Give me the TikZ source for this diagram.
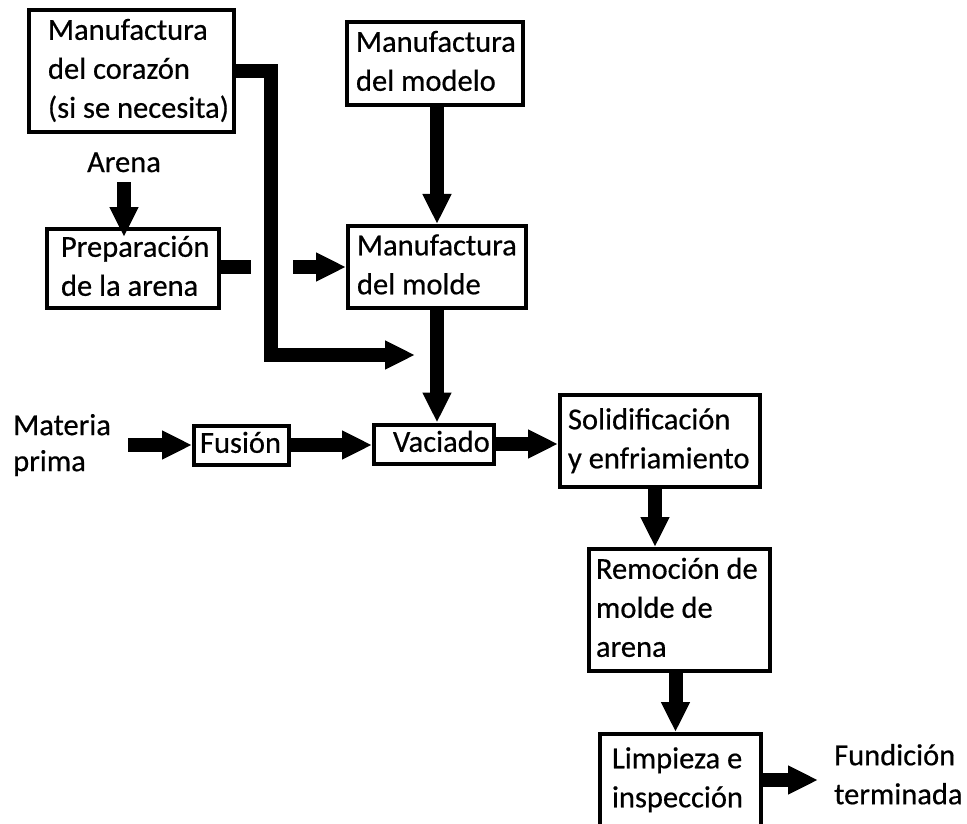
\documentclass[tikz,border=0pt]{standalone}
\usepackage{fontspec}
\setmainfont{Carlito}[FakeBold=0.5]
\usetikzlibrary{arrows.meta}
\hyphenpenalty=10000
\exhyphenpenalty=10000

\tikzset{
  every node/.style={font=\fontsize{30.5pt}{39pt}\selectfont},
  stage/.style={draw, line width=4pt, align=flush left, inner ysep=0pt, anchor=center,
    execute at begin node=\strut, execute at end node=\strut},
  caption/.style={inner sep=0pt, align=flush left},
  flow/.style={line width=14pt, -{Triangle[width=27pt,length=30pt]}},
  bar/.style={line width=14pt},
}

\begin{document}
\begin{tikzpicture}[x=1pt, y=-1pt]
  \path[fill=white] (0,0) rectangle (967,824);
  \useasboundingbox (0,0) rectangle (967,824);

  % process stages
  \node[stage, text width=167pt, inner xsep=19pt, minimum height=122pt] (core) at (131.5,71)
    {Manufactura\\\mbox{del corazón}\\\mbox{(si se necesita)}};
  \node[stage, text width=158pt, inner xsep=9pt, minimum height=83pt] (model) at (435,63.5)
    {Manufactura\\\mbox{del modelo}};
  \node[stage, text width=160pt, inner xsep=9pt, minimum height=82pt] (mold) at (437,267)
    {Manufactura\\\mbox{del molde}};
  \node[stage, text width=144pt, inner xsep=14pt, minimum height=79pt] (prep) at (133,268.5)
    {Preparación\\\mbox{de la arena}};
  \node[stage, text width=83pt, inner xsep=6pt, minimum height=32pt] (fusion) at (241.5,445)
    {Fusión};
  \node[stage, text width=82pt, inner xsep=19pt, minimum height=38pt] (pour) at (434,444)
    {Vaciado};
  \node[stage, text width=184pt, inner xsep=8pt, minimum height=92pt] (solid) at (660,441)
    {Solidificación\\\mbox{y enfriamiento}};
  \node[stage, text width=167pt, inner xsep=7pt, minimum height=122pt] (removal) at (679.5,610)
    {\mbox{Remoción de}\\\mbox{molde de}\\arena};
  \node[stage, text width=137pt, inner xsep=12pt, minimum height=92pt] (clean) at (680.5,780)
    {\mbox{Limpieza e}\\inspección};

  % inputs and output
  \node[caption, anchor=base] (sand) at (124,172) {Arena};
  \node[caption, anchor=west, font=\fontsize{30.5pt}{36pt}\selectfont,
    execute at begin node=\strut, execute at end node=\strut] (raw) at (13,448) {Materia\\prima};
  \node[caption, anchor=west,
    execute at begin node=\strut, execute at end node=\strut] (done) at (834,780) {Fundición\\terminada};

  % junction points of the core line
  \coordinate (trunk) at (271,355);
  \coordinate (coreIn) at (415,355);

  % connectors
  \draw[flow] ([yshift=-10pt]sand.south) -- ([yshift=-10pt]sand.south |- prep.north);
  \draw[flow] (mold.north |- model.south) -- (mold.north);
  \draw[flow] (core.east) -| (trunk) -- (coreIn);
  \draw[bar] (prep.east |- mold.west) -- ([xshift=-20pt]trunk |- mold.west);
  \draw[flow] ([xshift=22pt]trunk |- mold.west) -- (mold.west);
  \draw[flow] (mold.south) -- (mold.south |- pour.north);
  \draw[flow] ([xshift=17pt]raw.east |- fusion.west) -- (fusion.west);
  \draw[flow] (fusion.east) -- (fusion.east -| pour.west);
  \draw[flow] (pour.east) -- (pour.east -| solid.west);
  \draw[flow] ([xshift=-5pt]solid.south) -- ([xshift=-5pt]solid.south |- removal.north);
  \draw[flow] ([xshift=-4pt]removal.south) -- ([xshift=-4pt]removal.south |- clean.north);
  \draw[flow] (clean.east) -- ([xshift=-16pt]done.west |- clean.east);
\end{tikzpicture}
\end{document}
